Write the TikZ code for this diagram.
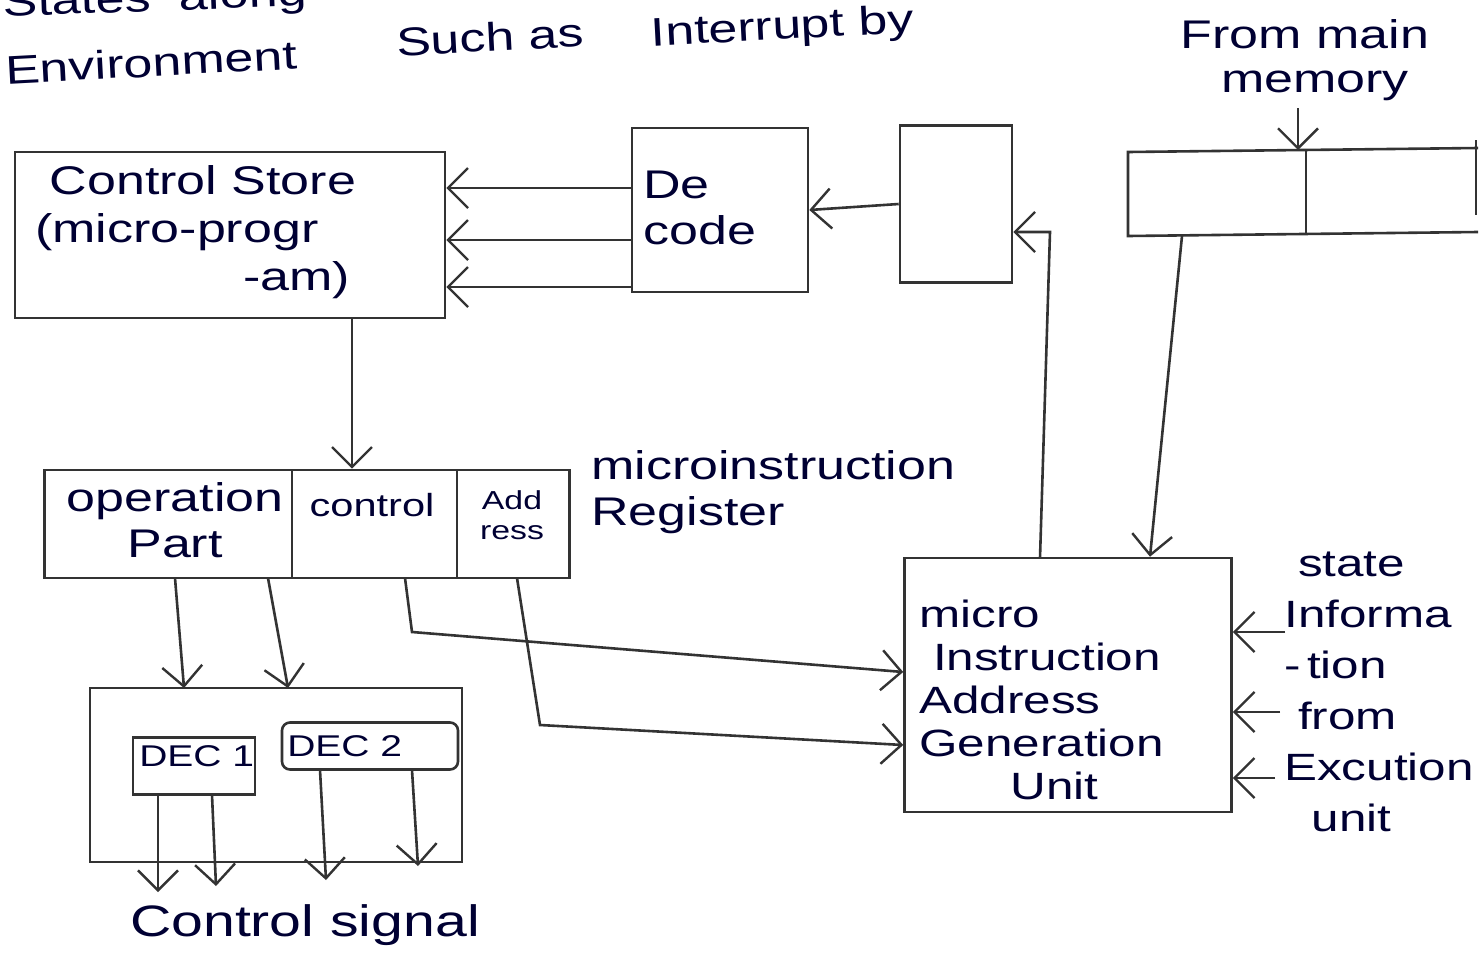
\documentclass[tikz,border=0pt]{standalone}
\usepackage{fontspec}
\setmainfont{Liberation Sans}
\newfontfamily\hand[FakeStretch=1.3]{Liberation Sans}
\usetikzlibrary{arrows.meta}
\begin{document}
\begin{tikzpicture}[x=1pt,y=-1pt,
  line width=2.6pt, draw=black!80,
  box/.style={draw, line width=2.6pt},
  lbl/.style={font=\hand\fontsize{40}{46}\selectfont, text=blue!20!black, align=center, inner sep=0pt},
  arr/.style={-{Straight Barb[length=20pt,width=40pt,line width=2.4pt]}},
  every node/.style={inner sep=0pt}]
\useasboundingbox (0,0) rectangle (1481,959);
\fill[white] (0,0) rectangle (1481,959);

% top handwritten text
\node[lbl, anchor=west, rotate=2] (t1) at (2,6) {States \ along};
\node[lbl, anchor=west, rotate=3] (t2a) at (4,70) {Environment};
\node[lbl, anchor=west, rotate=3] (t2b) at (395,42) {Such as};
\node[lbl, anchor=west, rotate=3] (t2c) at (650,36) {Interrupt by};

% from main memory
\node[lbl] (fmm) at (1305,34) {From main};
\node[lbl] (fmm2) at (1315,86) {memory};
\coordinate (fmmA) at (1298,108);

% register top right
\draw[box] (1478,148) -- (1128,152) -- (1128,236) -- (1478,232);
\draw[box] (1306,150) -- (1306,234);
\draw[box] (1476,140) -- (1476,215);
\coordinate (regTop) at (1298,150);
\draw[arr] (fmmA) -- (regTop);

% empty box
\node[box, minimum width=112pt, minimum height=157pt] (empty) at (956,204) {};
% decode
\node[box, minimum width=176pt, minimum height=164pt] (dec) at (720,210) {};
\node[lbl, anchor=west, align=left] (dect) at (642,208) {De\\code};
% control store
\node[box, minimum width=430pt, minimum height=166pt] (cs) at (230,235) {};
\node[lbl, align=left, anchor=west, font=\hand\fontsize{40}{48}\selectfont] (cst) at (34,232) {\ Control Store\\(micro-progr\\\hspace*{5.2em}-am)};

\draw[arr] (empty.west) -- (dec.east);
\draw[arr] (dec.west |- 0,188) -- (cs.east |- 0,188);
\draw[arr] (dec.west |- 0,240) -- (cs.east |- 0,240);
\draw[arr] (dec.west |- 0,287) -- (cs.east |- 0,287);

% microinstruction register
\node[box, minimum width=525pt, minimum height=108pt] (mir) at (307,524) {};
\draw[box] (292,470) -- (292,578);
\draw[box] (457,470) -- (457,578);
\node[lbl] (op) at (175,520) {operation\\Part};
\node[lbl, font=\hand\fontsize{32}{36}\selectfont] (ctl) at (372,505) {control};
\node[lbl, font=\hand\fontsize{26}{30}\selectfont] (adr) at (512,515) {Add\\ress};
\node[lbl, align=left, anchor=west] (mirl) at (590,492) {microinstruction\\Register};
\draw[arr] (352,318) -- (mir.north -| 352,0);

% decoder block
\node[box, minimum width=372pt, minimum height=174pt] (db) at (276,775) {};
\node[box, minimum width=122pt, minimum height=57pt] (d1) at (194,766) {};
\node[lbl, anchor=west, font=\hand\fontsize{30}{34}\selectfont] (d1t) at (138,756) {DEC 1};
\node[box, minimum width=176pt, minimum height=47pt, rounded corners=8pt] (d2) at (370,746) {};
\node[lbl, anchor=west, font=\hand\fontsize{30}{34}\selectfont] (d2t) at (286,746) {DEC 2};

\draw[arr] (175,578) -- (184,688);
\draw[arr] (268,578) -- (288,688);

\coordinate (s1) at (158,892);
\coordinate (s2) at (216,886);
\coordinate (s3) at (326,880);
\coordinate (s4) at (418,866);
\draw[arr] (158,795) -- (s1);
\draw[arr] (212,795) -- (s2);
\draw[arr] (320,770) -- (s3);
\draw[arr] (412,770) -- (s4);
\node[lbl, font=\hand\fontsize{44}{48}\selectfont] (cs2) at (305,925) {Control signal};

% micro instruction address generation unit
\node[box, minimum width=327pt, minimum height=254pt] (ag) at (1068,685) {};
\node[lbl, anchor=west, align=left, font=\hand\fontsize{38}{43}\selectfont] (agt) at (918,700) {micro\\\ Instruction\\Address\\Generation\\\hspace*{2.4em}Unit};

\draw[arr] (405,578) -- (412,632) -- (ag.west |- 0,672);
\draw[arr] (517,578) -- (540,725) -- (ag.west |- 0,745);
\draw[arr] (1040,558) -- (1050,232) -- (empty.east |- 0,232);
\draw[arr] (1182,236) -- (ag.north -| 1150,0);

% state information
\node[lbl, anchor=west, align=left, font=\hand\fontsize{38}{51}\selectfont] (st) at (1283,692) {\ state\\Informa\\-\,tion\\\ from\\Excution\\\ \ unit};
\draw[arr] (1285,632) -- (ag.east |- 0,632);
\draw[arr] (1280,712) -- (ag.east |- 0,712);
\draw[arr] (1275,778) -- (ag.east |- 0,778);
\end{tikzpicture}
\end{document}
